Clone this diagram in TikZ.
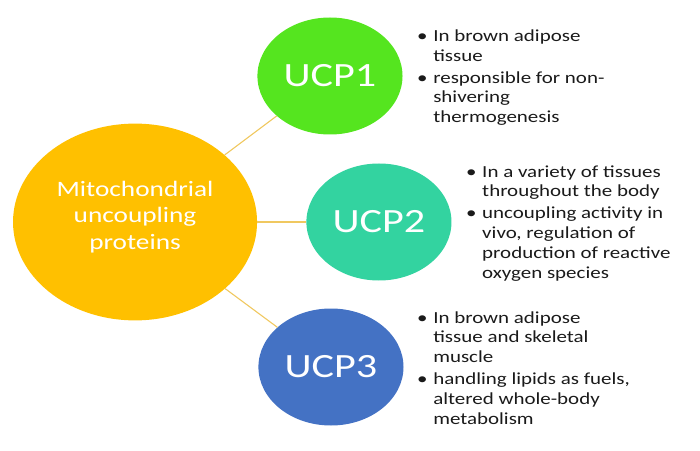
\documentclass[tikz,border=0pt]{standalone}
\usepackage{fontspec}
\setmainfont{Carlito}
\definecolor{gold}{HTML}{FFC000}
\definecolor{ucpgreen}{HTML}{55E51F}
\definecolor{ucpteal}{HTML}{33D3A0}
\definecolor{ucpblue}{HTML}{4472C4}
\definecolor{linkline}{HTML}{F0C860}
\definecolor{bullettext}{HTML}{1A1A1A}
\newcommand\itembul{\llap{\textbullet\hspace{4.5pt}}}
\begin{document}
\begin{tikzpicture}[x=1pt,y=1pt,
  hub/.style={circle, fill=gold, minimum size=196.8pt, inner sep=0pt},
  hubtext/.style={inner sep=0pt, align=center, text=white, font=\fontsize{22}{26.5}\selectfont},
  ucp/.style={circle, minimum size=117pt, inner sep=0pt, text=white, font=\fontsize{34}{38}\selectfont},
  note/.style={anchor=base west, inner sep=0pt, align=left, text=bullettext, font=\fontsize{16.9}{19.7}\selectfont},
  link/.style={draw=linkline, line width=1.1pt}]
\useasboundingbox (0,0) rectangle (700,450);
\begin{scope}[xscale=1.24, transform shape]
  \node[hub] (hub) at (108.9,228) {};
  \node[hubtext] (hubt) at (108.9,233) {Mitochondrial\\uncoupling\\proteins};
  \node[ucp, fill=ucpgreen] (u1) at (266.1,374) {UCP1};
  \node[ucp, fill=ucpteal] (u2) at (305.6,228) {UCP2};
  \node[ucp, fill=ucpblue] (u3) at (266.9,83) {UCP3};
  \draw[link] (hub) -- (u1);
  \draw[link] (hub) -- (u2);
  \draw[link] (hub) -- (u3);
  \node[note] (n1) at (349.2,327.5) {\itembul In brown adipose\\tissue\\[2.3pt]\itembul responsible for non-\\shivering\\thermogenesis};
  \node[note] (n2) at (388.7,172) {\itembul In a variety of tissues\\throughout the body\\[2.3pt]\itembul uncoupling activity in\\vivo, regulation of\\production of reactive\\oxygen species};
  \node[note] (n3) at (349.2,26) {\itembul In brown adipose\\tissue and skeletal\\muscle\\[2.3pt]\itembul handling lipids as fuels,\\altered whole-body\\metabolism};
\end{scope}
\end{tikzpicture}
\end{document}
